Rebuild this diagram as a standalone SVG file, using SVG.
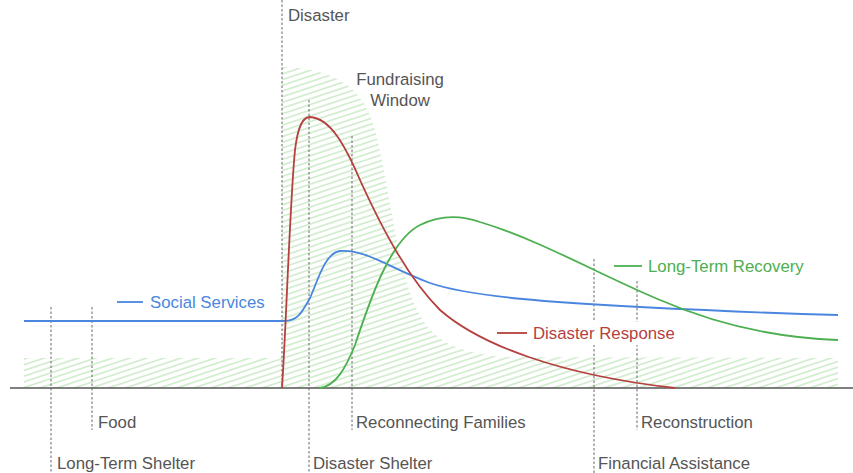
<svg xmlns="http://www.w3.org/2000/svg" width="853" height="473" viewBox="0 0 853 473">
<defs>
<pattern id="hatch" patternUnits="userSpaceOnUse" width="20" height="5.4" patternTransform="rotate(-18.4)">
<line x1="-5" y1="2.7" x2="25" y2="2.7" stroke="#a6d9a0" stroke-width="0.9"/>
</pattern>
</defs>
<style>
.lbl{font-family:"Liberation Sans",Arial,sans-serif;font-size:16.8px;fill:#555}
.guide{stroke:#666;stroke-width:1;stroke-dasharray:2.5,2;fill:none}
.curve{fill:none;stroke-width:1.8}
</style>
<rect width="853" height="473" fill="#fff"/>
<g id="fundraising-window">
<path d="M24,358 L282,358 L282,67 C330,68 360,85 372,120 C388,170 395,260 415,305 C428,335 445,350 500,357 L838,358 L838,388 L24,388 Z" fill="url(#hatch)"/>
<text class="lbl" x="400" y="85" text-anchor="middle">Fundraising</text>
<text class="lbl" x="400" y="106" text-anchor="middle">Window</text>
</g>
<g id="guides">
<g id="disaster"><line class="guide" x1="282" y1="0" x2="282" y2="388"/><text class="lbl" x="288" y="21">Disaster</text></g>
<g id="long-term-shelter"><line class="guide" x1="51" y1="307" x2="51" y2="473"/><text class="lbl" x="57" y="469">Long-Term Shelter</text></g>
<g id="food"><line class="guide" x1="92" y1="307" x2="92" y2="430"/><text class="lbl" x="98" y="428">Food</text></g>
<g id="disaster-shelter"><line class="guide" x1="309" y1="100" x2="309" y2="473"/><text class="lbl" x="313" y="469">Disaster Shelter</text></g>
<g id="reconnecting-families"><line class="guide" x1="352" y1="136" x2="352" y2="430"/><text class="lbl" x="356" y="428">Reconnecting Families</text></g>
<g id="financial-assistance"><line class="guide" x1="594" y1="259" x2="594" y2="473"/><text class="lbl" x="598" y="469">Financial Assistance</text></g>
<g id="reconstruction"><line class="guide" x1="637" y1="281" x2="637" y2="430"/><text class="lbl" x="641" y="428">Reconstruction</text></g>
</g>
<g id="connectors">
<line x1="10" y1="388" x2="853" y2="388" stroke="#555" stroke-width="1.5"/>
<path id="social-services-curve" class="curve" stroke="#4a86e0" d="M24,321 L284,321 C298,321 302,312 310,298 C318,280 325,253 340,251 C365,249 390,268 430,283 C470,297 560,303 640,307 C720,311 800,314 838,315"/>
<path id="long-term-recovery-curve" class="curve" stroke="#4caf50" d="M320,388 C335,386 345,370 355,345 C370,300 390,240 420,225 C440,215 460,215 480,222 C540,240 600,275 660,300 C720,326 780,338 838,340"/>
<path id="disaster-response-curve" class="curve" stroke="#b5403e" d="M282,388 C286,330 290,200 295,150 C298,125 303,117 310,117 C330,118 345,145 360,180 C385,235 410,280 440,310 C480,345 560,375 675,388"/>
</g>
<g id="legend-social-services">
<line x1="117" y1="302" x2="143" y2="302" stroke="#4a86e0" stroke-width="1.8"/>
<text class="lbl" x="150" y="308" style="fill:#4a86e0">Social Services</text>
</g>
<g id="legend-disaster-response">
<rect x="580" y="322" width="70" height="23" fill="#fff"/>
<line x1="497" y1="333" x2="527" y2="333" stroke="#b5403e" stroke-width="1.8"/>
<text class="lbl" x="533" y="339" style="fill:#b5403e">Disaster Response</text>
</g>
<g id="legend-long-term-recovery">
<line x1="614" y1="266" x2="642" y2="266" stroke="#4caf50" stroke-width="1.8"/>
<text class="lbl" x="648" y="272" style="fill:#4caf50">Long-Term Recovery</text>
</g>
</svg>
